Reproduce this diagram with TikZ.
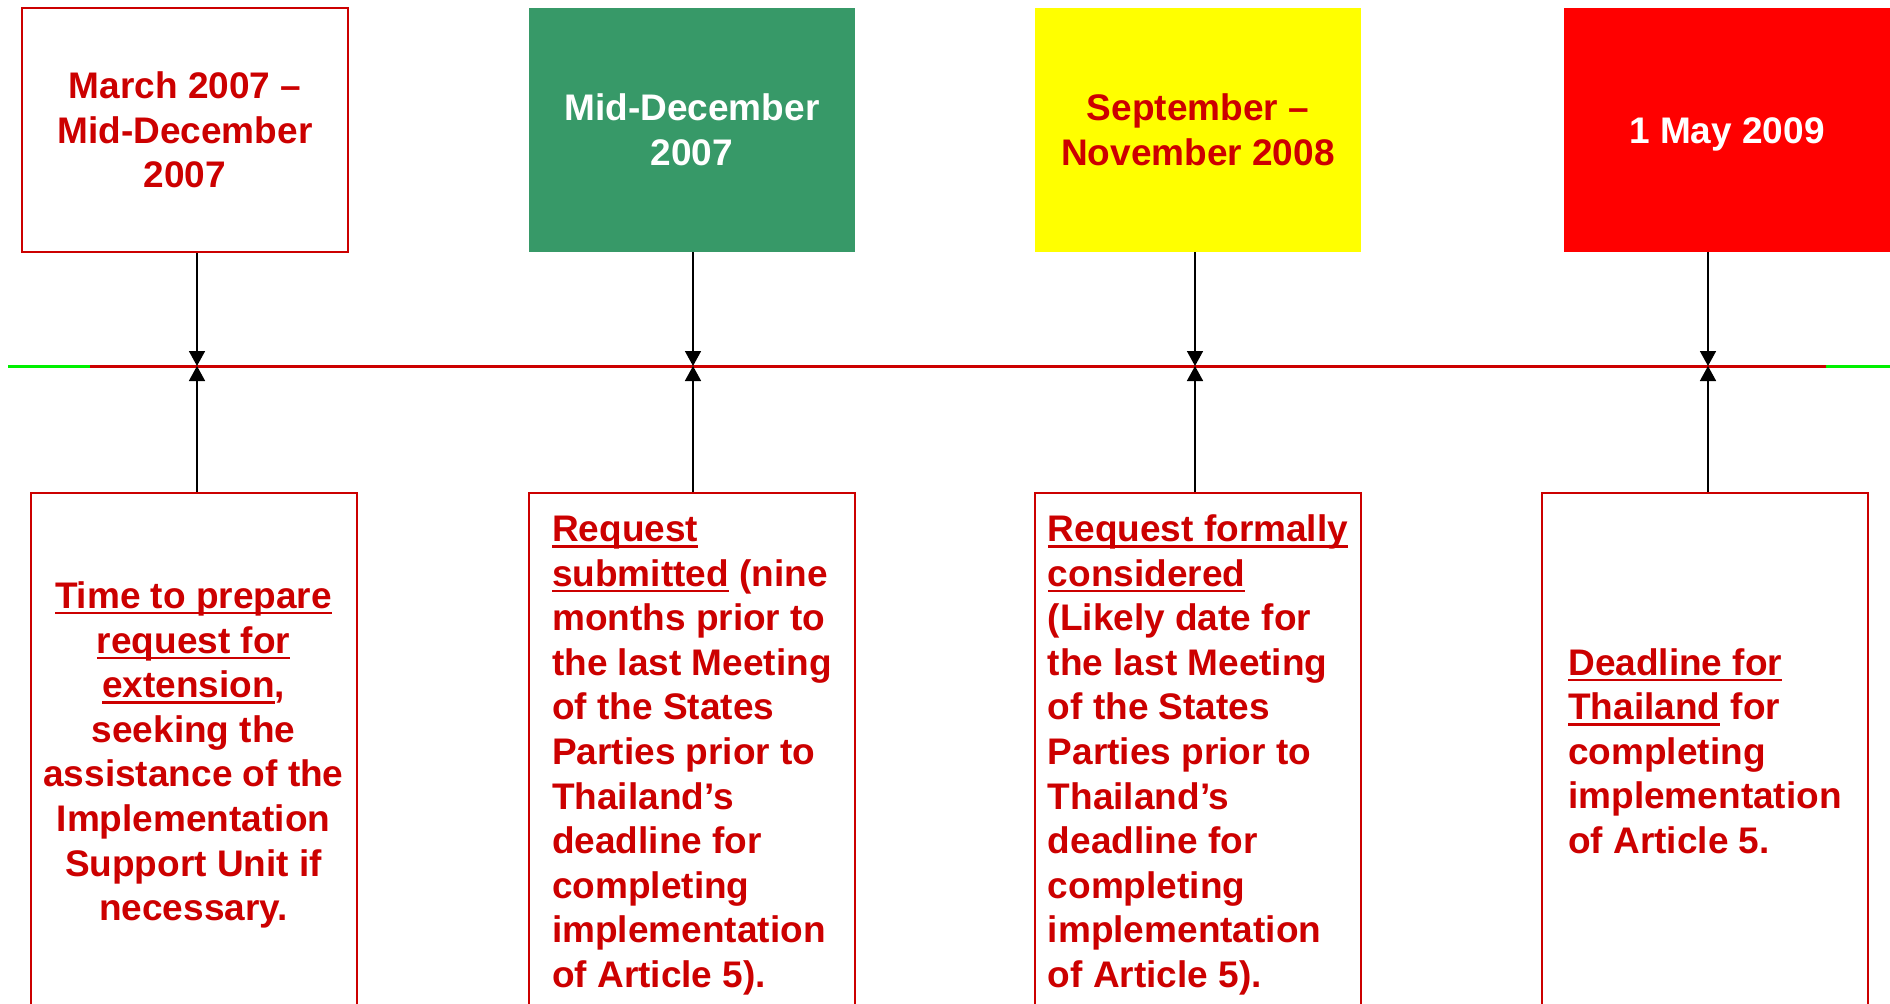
\documentclass[tikz,border=0pt]{standalone}
\usepackage{xcolor}
\usepackage{fontspec}
\setmainfont{Liberation Sans}
\usepackage{tikz}
\usetikzlibrary{arrows.meta}
\definecolor{datered}{RGB}{204,0,0}
\definecolor{dategreen}{RGB}{55,153,104}
\definecolor{dateyellow}{RGB}{255,255,0}
\definecolor{deadred}{RGB}{255,0,0}
\definecolor{linegreen}{RGB}{0,240,0}
\newcommand{\boxfont}{\fontsize{18.5pt}{22.3pt}\selectfont\bfseries}
\newcommand{\undertext}[1]{\leavevmode\setbox0\hbox{#1}\rlap{\rule[-3pt]{\wd0}{1.2pt}}\box0\relax}
% evens out a last line that hangs below the baseline
\newcommand{\topstrut}{\rule{0pt}{17.4pt}}
\tikzset{
  datebox/.style={
    rectangle, minimum width=163pt, minimum height=122pt,
    inner sep=0pt, align=center, font=\boxfont
  },
  notebox/.style={
    draw=datered, rectangle, fill=white,
    minimum width=163pt, minimum height=258pt,
    inner sep=0pt, text=datered, font=\boxfont,
    line width=1pt
  },
  arrow/.style={-{Triangle[length=7.5pt, width=8pt]}, line width=0.8pt},
  timeline/.style={line width=1.5pt}
}

\begin{document}
\begin{tikzpicture}[x=0.5pt, y=-0.5pt]
  \useasboundingbox (0,0) rectangle (1890,1003);
  \clip (0,0) rectangle (1890,1003);

  % dates along the top
  \node[datebox, draw=datered, line width=1pt, text=datered] (d1) at (185,130)
    {March 2007 –\\Mid-December\\2007};
  \node[datebox, fill=dategreen, text=white] (d2) at (692,130)
    {Mid-December\\2007};
  \node[datebox, fill=dateyellow, text=datered] (d3) at (1198,130)
    {September –\\November 2008};
  \node[datebox, fill=deadred, text=white] (d4) at (1727,130)
    {\topstrut 1 May 2009};

  % timeline
  \coordinate (tl-a) at (8,366);
  \coordinate (tl-b) at (90,366);
  \coordinate (tl-c) at (1826,366);
  \coordinate (tl-d) at (1890,366);
  \draw[timeline, linegreen] (tl-a) -- (tl-b);
  \draw[timeline, datered] (tl-b) -- (tl-c);
  \draw[timeline, linegreen] (tl-c) -- (tl-d);

  \coordinate (t1) at (197,366);
  \coordinate (t2) at (693,366);
  \coordinate (t3) at (1195,366);
  \coordinate (t4) at (1708,366);

  % notes below
  \node[notebox, align=center] (n1) at (193.5,751)
    {\topstrut\undertext{Time to prepare}\\
     \undertext{request for}\\
     \undertext{extension},\\
     seeking the\\
     assistance of the\\
     Implementation\\
     Support Unit if\\
     necessary.};
  \node[notebox, align=left] (n2) at (692,751)
    {\topstrut\undertext{Request}\\
     \undertext{submitted} (nine\\
     months prior to\\
     the last Meeting\\
     of the States\\
     Parties prior to\\
     Thailand’s\\
     deadline for\\
     completing\\
     implementation\\
     of Article 5).};
  \node[notebox, align=left] (n3) at (1198,751)
    {\topstrut\undertext{Request formally}\\
     \undertext{considered}\\
     (Likely date for\\
     the last Meeting\\
     of the States\\
     Parties prior to\\
     Thailand’s\\
     deadline for\\
     completing\\
     implementation\\
     of Article 5).};
  \node[notebox, align=left] (n4) at (1705,751)
    {\undertext{Deadline for}\\
     \undertext{Thailand} for\\
     completing\\
     implementation\\
     of Article 5.};

  % dates -> timeline
  \foreach \i in {1,...,4}
    \draw[arrow] (d\i.south -| t\i) -- (t\i);

  % notes -> timeline
  \foreach \i in {1,...,4}
    \draw[arrow] (n\i.north -| t\i) -- (t\i);
\end{tikzpicture}
\end{document}
